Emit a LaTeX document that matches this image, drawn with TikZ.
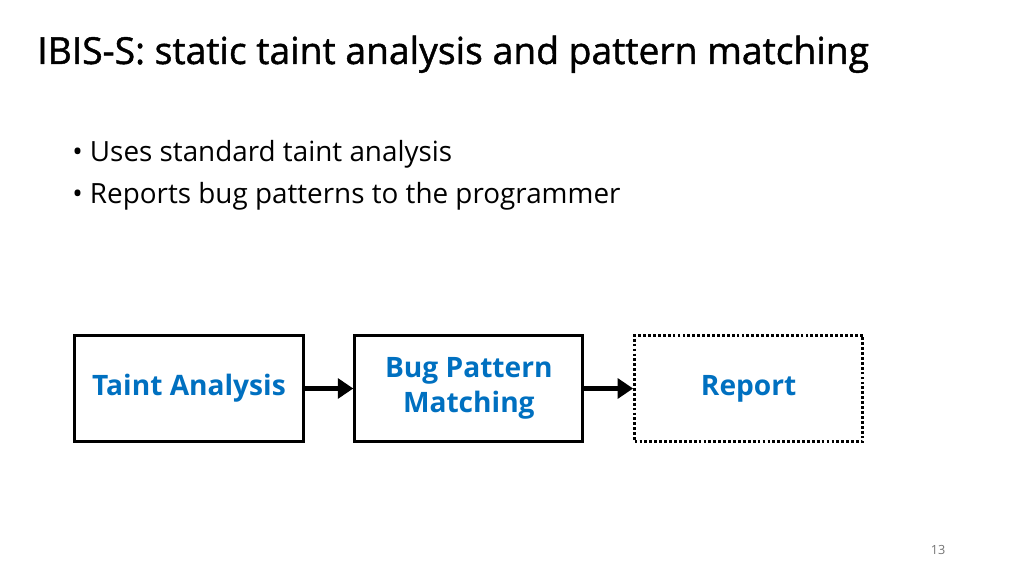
\documentclass[tikz,border=0pt]{standalone}
\usepackage{fontspec}
\setmainfont{Open Sans}
\newfontfamily\semibold[FakeBold=1.2]{Open Sans}
\usetikzlibrary{positioning,arrows.meta}
\definecolor{boxblue}{HTML}{0070C0}
\begin{document}
\begin{tikzpicture}[x=0.025cm, y=-0.025cm, node distance=1.22cm]
	\tikzset{b/.style={draw=black, line width=2.1pt, minimum width=5.7cm, minimum height=2.66cm,
		align=center, text=boxblue, inner sep=0pt, font=\fontsize{20}{25}\selectfont\bfseries},
	r/.style={b, dash pattern=on 2pt off 1.5pt},
	f/.style={-{Triangle[length=11pt, width=14pt]}, line width=4pt},
	t/.style={anchor=base west, inner sep=0pt}};

	\useasboundingbox (0,0) rectangle (1024,576);

	\node[t, font=\fontsize{26.5}{30}\semibold] (title) at (37,64) {IBIS-S: static taint analysis and pattern matching};
	\node[t, font=\fontsize{19.8}{24}\selectfont] (bul1) at (72,162) {•\ Uses standard taint analysis};
	\node[t, font=\fontsize{19.8}{24}\selectfont] (bul2) at (72,204) {•\ Reports bug patterns to the programmer};

	\node[b] (taint) at (189,388.5) {Taint Analysis};
	\node[b, right=of taint] (match) {Bug Pattern\\Matching};
	\node[r, right=of match] (report) {Report};

	\draw[f] (taint) -- (match);
	\draw[f] (match) -- (report);

	\node[anchor=base, inner sep=0pt, text=black!55, font=\fontsize{9}{10}\selectfont] (page) at (938,554) {13};
\end{tikzpicture}
\end{document}
